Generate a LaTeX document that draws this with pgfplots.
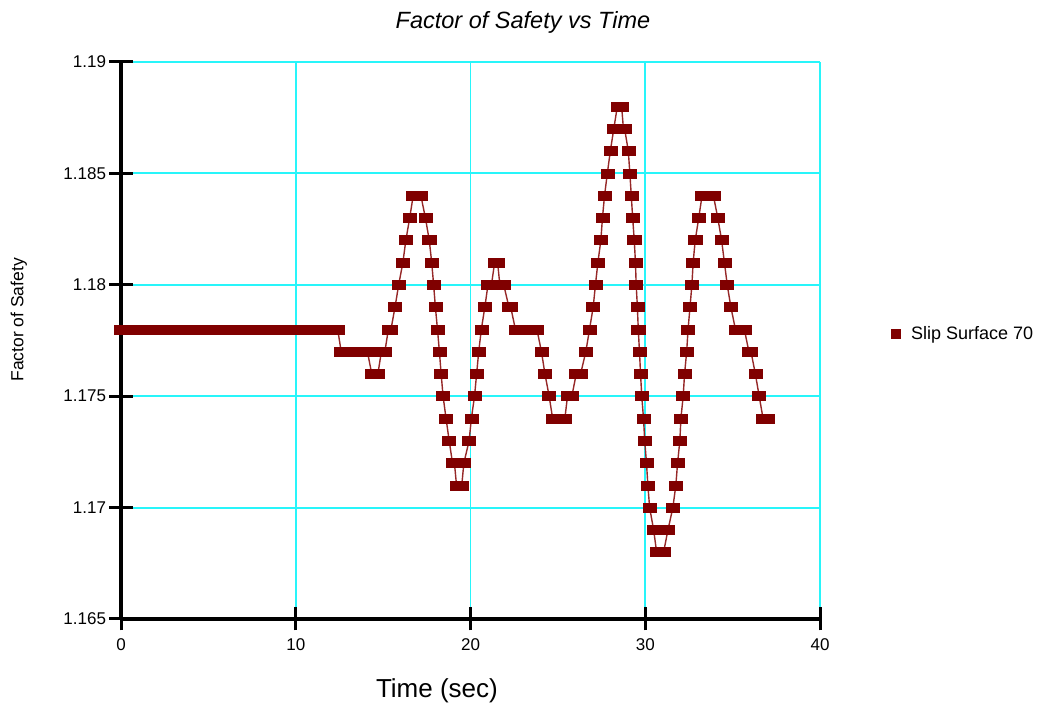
\documentclass[border=0pt]{standalone}
\usepackage{fontspec}
\setmainfont{Liberation Sans}
\usepackage{pgfplots}
\pgfplotsset{compat=1.18}
\definecolor{darkred}{RGB}{128,0,0}
\definecolor{linered}{RGB}{150,40,40}
\definecolor{gridcyan}{RGB}{40,245,250}

\begin{document}
\begin{tikzpicture}[x=1bp,y=1bp]
\path[use as bounding box] (0,0) rectangle (1043,704);
\begin{axis}[
  at={(121bp,85bp)}, anchor=south west,
  scale only axis, width=699bp, height=557bp,
  xmin=0, xmax=40, ymin=1.165, ymax=1.19,
  xtick={0,10,20,30,40},
  ytick={1.165,1.175,1.180,1.185,1.190},
  extra y ticks={1.17},
  extra y tick style={grid=major, major grid style={gridcyan, line width=2bp}},
  minor tick num=0,
  axis x line*=bottom, axis y line*=left,
  axis line style={line width=3.5bp, black, -},
  xmajorgrids, ymajorgrids,
  major grid style={gridcyan, line width=1.8bp},
  tick align=center, major tick length=23bp,
  tick style={line width=3bp, black},
  /pgf/number format/assume math mode=true,
  ticklabel style={font=\fontsize{17bp}{20bp}\selectfont},
  yticklabel style={/pgf/number format/fixed, /pgf/number format/precision=3, anchor=east, xshift=0bp},
  xticklabel style={anchor=center, yshift=-14bp},
  yticklabel pos=left,
  title={\itshape Factor of Safety vs Time},
  title style={at={(axis description cs:0.575,1.061)}, anchor=center, font=\fontsize{23.5bp}{26bp}\selectfont},
  xlabel={Time (sec)},
  xlabel style={at={(axis description cs:0.452,-0.128)}, anchor=center, font=\fontsize{26bp}{30bp}\selectfont},
  ylabel={Factor of Safety},
  ylabel style={at={(axis description cs:-0.146,0.537)}, anchor=center, rotate=0, font=\fontsize{17.5bp}{20bp}\selectfont},
  legend style={at={(axis description cs:1.101,0.512)}, anchor=west, draw=none, fill=none,
    font=\fontsize{18bp}{21bp}\selectfont, inner sep=0pt, column sep=8bp,
    nodes={inner sep=2bp}},
  legend cell align=left,
  clip=false,
]
\addplot[color=linered, line width=1.4bp, mark=square*, mark size=4.5bp,
  mark options={fill=darkred, draw=darkred, line width=0.5bp, xscale=1.45},
  legend image code/.code={\fill[darkred] (-4.5bp,-4.5bp) rectangle (4.5bp,4.5bp);}]
coordinates {
(0,1.178) (0.25,1.178) (0.5,1.178) (0.75,1.178) (1,1.178) (1.25,1.178) (1.5,1.178) (1.75,1.178)
(2,1.178) (2.25,1.178) (2.5,1.178) (2.75,1.178) (3,1.178) (3.25,1.178) (3.5,1.178) (3.75,1.178)
(4,1.178) (4.25,1.178) (4.5,1.178) (4.75,1.178) (5,1.178) (5.25,1.178) (5.5,1.178) (5.75,1.178)
(6,1.178) (6.25,1.178) (6.5,1.178) (6.75,1.178) (7,1.178) (7.25,1.178) (7.5,1.178) (7.75,1.178)
(8,1.178) (8.25,1.178) (8.5,1.178) (8.75,1.178) (9,1.178) (9.25,1.178) (9.5,1.178) (9.75,1.178)
(10,1.178) (10.25,1.178) (10.5,1.178) (10.75,1.178) (11,1.178) (11.25,1.178) (11.5,1.178) (11.75,1.178)
(12,1.178) (12.2,1.178) (12.4,1.178)
(12.6,1.177) (12.85,1.177) (13.1,1.177) (13.35,1.177) (13.6,1.177) (13.85,1.177) (14.1,1.177)
(14.35,1.176) (14.55,1.176) (14.7,1.176)
(14.9,1.177) (15.1,1.177)
(15.3,1.178) (15.45,1.178)
(15.68,1.179) (15.89,1.180) (16.13,1.181) (16.3,1.182) (16.52,1.183)
(16.72,1.184) (16.95,1.184) (17.16,1.184)
(17.42,1.183) (17.64,1.182) (17.78,1.181) (17.89,1.180) (17.99,1.179) (18.11,1.178)
(18.22,1.177) (18.32,1.176) (18.43,1.175) (18.6,1.174) (18.78,1.173)
(18.97,1.172) (19.08,1.172)
(19.2,1.171) (19.35,1.171) (19.5,1.171)
(19.62,1.172)
(19.92,1.173) (20.05,1.174) (20.23,1.175) (20.35,1.176) (20.47,1.177) (20.62,1.178) (20.82,1.179)
(21.0,1.180) (21.2,1.180)
(21.38,1.181) (21.55,1.181)
(21.68,1.180) (21.9,1.180)
(22.2,1.179) (22.3,1.179)
(22.57,1.178) (22.8,1.178) (23.05,1.178) (23.3,1.178) (23.55,1.178) (23.8,1.178)
(24.06,1.177) (24.26,1.176) (24.5,1.175)
(24.7,1.174) (24.95,1.174) (25.2,1.174) (25.4,1.174)
(25.55,1.175) (25.8,1.175)
(26.05,1.176) (26.3,1.176)
(26.6,1.177) (26.81,1.178) (27.02,1.179) (27.15,1.180) (27.29,1.181) (27.46,1.182)
(27.55,1.183) (27.67,1.184) (27.83,1.185) (28.0,1.186) (28.2,1.187)
(28.4,1.188) (28.52,1.188) (28.65,1.188)
(28.75,1.187) (28.82,1.187)
(29.03,1.186) (29.12,1.185) (29.2,1.184) (29.28,1.183) (29.37,1.182) (29.44,1.181)
(29.48,1.180) (29.55,1.179) (29.6,1.178) (29.67,1.177) (29.73,1.176) (29.8,1.175)
(29.9,1.174) (29.97,1.173) (30.07,1.172) (30.15,1.171) (30.25,1.170) (30.48,1.169)
(30.65,1.168) (30.8,1.168) (30.95,1.168) (31.05,1.168)
(31.3,1.169) (31.58,1.170) (31.75,1.171) (31.85,1.172) (31.98,1.173) (32.04,1.174)
(32.17,1.175) (32.25,1.176) (32.37,1.177) (32.45,1.178) (32.56,1.179) (32.67,1.180)
(32.74,1.181) (32.86,1.182) (33.06,1.183)
(33.25,1.184) (33.5,1.184) (33.7,1.184) (33.9,1.184)
(34.15,1.183) (34.37,1.182) (34.53,1.181) (34.69,1.180) (34.9,1.179)
(35.16,1.178) (35.4,1.178) (35.67,1.178)
(35.93,1.177) (36.05,1.177)
(36.3,1.176) (36.52,1.175)
(36.74,1.174) (36.87,1.174) (37.0,1.174)
};
\addlegendentry{Slip Surface 70}
\end{axis}
\end{tikzpicture}
\end{document}
